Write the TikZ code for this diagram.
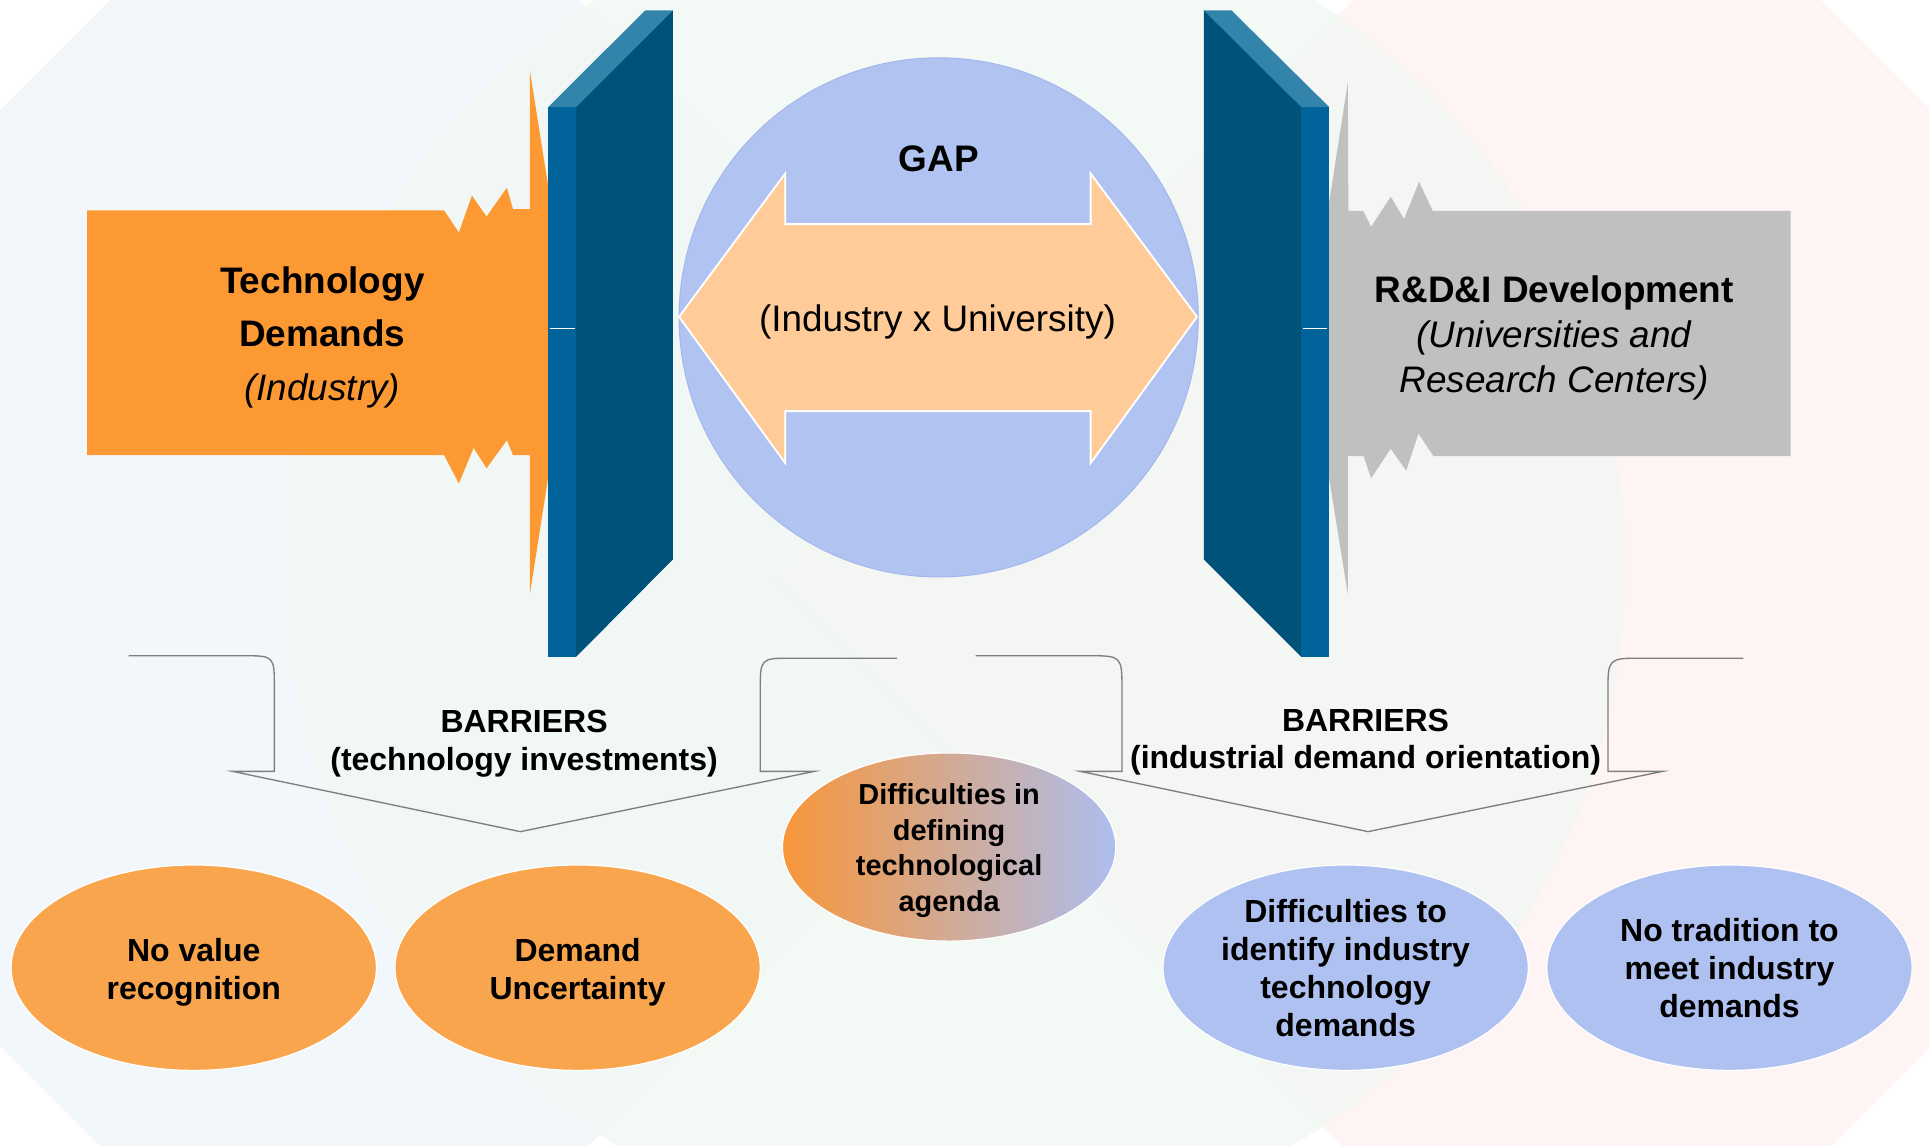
\documentclass[tikz,border=0pt]{standalone}
\usepackage{fontspec}
\setmainfont{Liberation Sans}
\usetikzlibrary{shapes.geometric}
\definecolor{orangeA}{RGB}{253,153,51}
\definecolor{grayA}{RGB}{192,192,192}
\definecolor{wallTop}{RGB}{51,132,171}
\definecolor{wallFront}{RGB}{0,99,153}
\definecolor{wallSide}{RGB}{0,82,122}
\definecolor{gapBlue}{RGB}{177,195,241}
\definecolor{gapBorder}{RGB}{164,183,236}
\definecolor{peach}{RGB}{255,204,153}
\definecolor{ellOrange}{RGB}{249,165,78}
\definecolor{ellBlue}{RGB}{175,193,240}
\definecolor{gradOrange}{RGB}{248,150,58}
\definecolor{gradMid}{RGB}{214,172,172}
\definecolor{gradBlue}{RGB}{172,190,239}
\definecolor{braceGray}{RGB}{127,127,127}
\definecolor{bgBlue}{RGB}{242,247,251}
\definecolor{bgGreen}{RGB}{240,248,242}
\definecolor{bgPink}{RGB}{254,244,244}
\tikzset{
  bracepath/.style={draw=braceGray, line width=1.1pt, line join=miter},
  ellbase/.style={ellipse, draw=white, line width=1pt, inner sep=0pt},
  bigtxt/.style={align=center, inner sep=0pt, font=\fontsize{30}{43.5}\selectfont\bfseries},
  elltxt/.style={align=center, inner sep=0pt, font=\fontsize{26}{31}\selectfont\bfseries},
  bartxt/.style={align=center, inner sep=0pt, font=\fontsize{26}{31.5}\selectfont\bfseries},
}
\begin{document}
\begin{tikzpicture}[x=1pt,y=-1pt]
\useasboundingbox (0,0) rectangle (1568,931);
\fill[white] (0,0) rectangle (1568,931);
% faint background
\begin{scope}
\clip (0,0) rectangle (1568,931);
\fill[bgBlue] (280,-190) -- (940,470) -- (280,1130) -- (-380,470) -- cycle;
\fill[bgPink] (1290,-190) -- (1950,470) -- (1290,1130) -- (630,470) -- cycle;
\fill[bgGreen, opacity=0.75] (776,460) circle[radius=545];
\end{scope}

% orange block arrow
\fill[orangeA] (70.8,171) -- (361,171) -- (373,189) -- (383.6,159) -- (395.5,176)
  -- (412,152.6) -- (417,170) -- (430.7,170) -- (430.7,57.5) -- (445.7,151.7)
  -- (458,270) -- (445.6,388) -- (430.7,483) -- (430.7,370) -- (417,370)
  -- (412,357.8) -- (395.5,380.7) -- (385,364) -- (373,393) -- (361,370)
  -- (70.8,370) -- cycle;
% gray block arrow
\fill[grayA] (1096,171.5) -- (1108.2,171.5) -- (1114.5,184.3) -- (1130.5,159.9)
  -- (1141.3,178) -- (1153.5,147.7) -- (1164.6,171.5) -- (1455.4,171.5)
  -- (1455.4,370.8) -- (1165.2,370.8) -- (1153,352.5) -- (1143,382.5)
  -- (1130.4,364.8) -- (1114.5,388.8) -- (1108.4,370.8) -- (1095.6,370.8)
  -- (1095.6,483) -- (1080.2,387.8) -- (1068,270) -- (1080.2,165.7)
  -- (1095.6,67) -- cycle;

% left wall
\fill[wallTop] (445.7,87) -- (524.4,8.5) -- (547,8.5) -- (468.2,87) -- cycle;
\fill[wallSide] (468.2,87) -- (547,8.5) -- (547,454.7) -- (468.2,534) -- cycle;
\fill[wallFront] (445.7,87) rectangle (468.2,534);
\draw[white, line width=0.8pt] (447,267) -- (467,267);
% right wall
\fill[wallTop] (978.5,8.5) -- (1001,8.5) -- (1080.4,87) -- (1057.8,87) -- cycle;
\fill[wallSide] (978.5,8.5) -- (1057.8,87) -- (1057.8,534) -- (978.5,454.7) -- cycle;
\fill[wallFront] (1057.8,87) rectangle (1080.4,534);
\draw[white, line width=0.8pt] (1059,267) -- (1079,267);

% GAP circle and double arrow
\node[circle, fill=gapBlue, draw=gapBorder, line width=0.8pt, minimum size=422pt, inner sep=0pt] (gap) at (763,258) {};
\filldraw[fill=peach, draw=white, line width=1.5pt, line join=miter]
  (552,257.5) -- (638.3,141) -- (638.3,182.2) -- (886.5,182.2) -- (886.5,141)
  -- (973,257.5) -- (886.5,376.5) -- (886.5,334.2) -- (638.3,334.2)
  -- (638.3,376.5) -- cycle;

% texts top
\node[bigtxt] (tech) at (262,274) {Technology\\Demands\\\textit{\mdseries (Industry)}};
\node[bigtxt, font=\fontsize{30}{36.5}\selectfont\bfseries] (rdi) at (1263.5,274.5) {R\&D\&I Development\\\textit{\mdseries (Universities and}\\\textit{\mdseries Research Centers)}};
\node[bigtxt] (gaptitle) at (763,129) {GAP};
\node[bigtxt, font=\fontsize{30}{36}\selectfont] (gaptxt) at (762,262) {(Industry x University)};

% braces
\draw[bracepath] (104.5,533) -- (197,533) .. controls (223,533) .. (223,559)
  -- (223,627) -- (189,627) -- (423,676) -- (662,627) -- (618,627)
  -- (618,561) .. controls (618,535) .. (644,535) -- (729,535);
\draw[bracepath] (793,533) -- (884,533) .. controls (912,533) .. (912,561)
  -- (912,627) -- (878,627) -- (1112,676) -- (1351.5,627) -- (1307,627)
  -- (1307,563) .. controls (1307,535) .. (1335,535) -- (1417,535);
\node[bartxt] (bar1) at (426,604.5) {BARRIERS\\(technology investments)};
\node[bartxt, font=\fontsize{26}{30}\selectfont\bfseries] (bar2) at (1110,603.5) {BARRIERS\\(industrial demand orientation)};

% ellipses
\node[ellbase, fill=ellOrange, minimum width=297pt, minimum height=167pt] (e1) at (157.5,786.6) {};
\node[ellbase, fill=ellOrange, minimum width=297pt, minimum height=167pt] (e2) at (469.5,786.6) {};
\node[ellbase, left color=gradOrange, middle color=gradMid, right color=gradBlue, minimum width=271pt, minimum height=153pt] (e3) at (771.5,688.5) {};
\node[ellbase, fill=ellBlue, minimum width=297pt, minimum height=167pt] (e4) at (1093.8,786.6) {};
\node[ellbase, fill=ellBlue, minimum width=297pt, minimum height=167pt] (e5) at (1405.8,786.6) {};

\node[elltxt] (t1) at (157.5,790.5) {No value\\recognition};
\node[elltxt] (t2) at (469.5,790.5) {Demand\\Uncertainty};
\node[elltxt, font=\fontsize{23.5}{29}\selectfont\bfseries] (t3) at (771.5,691.5) {Difficulties in\\defining\\technological\\agenda};
\node[elltxt] (t4) at (1093.8,787) {Difficulties to\\identify industry\\technology\\demands};
\node[elltxt] (t5) at (1405.8,787) {No tradition to\\meet industry\\demands};
\end{tikzpicture}
\end{document}
